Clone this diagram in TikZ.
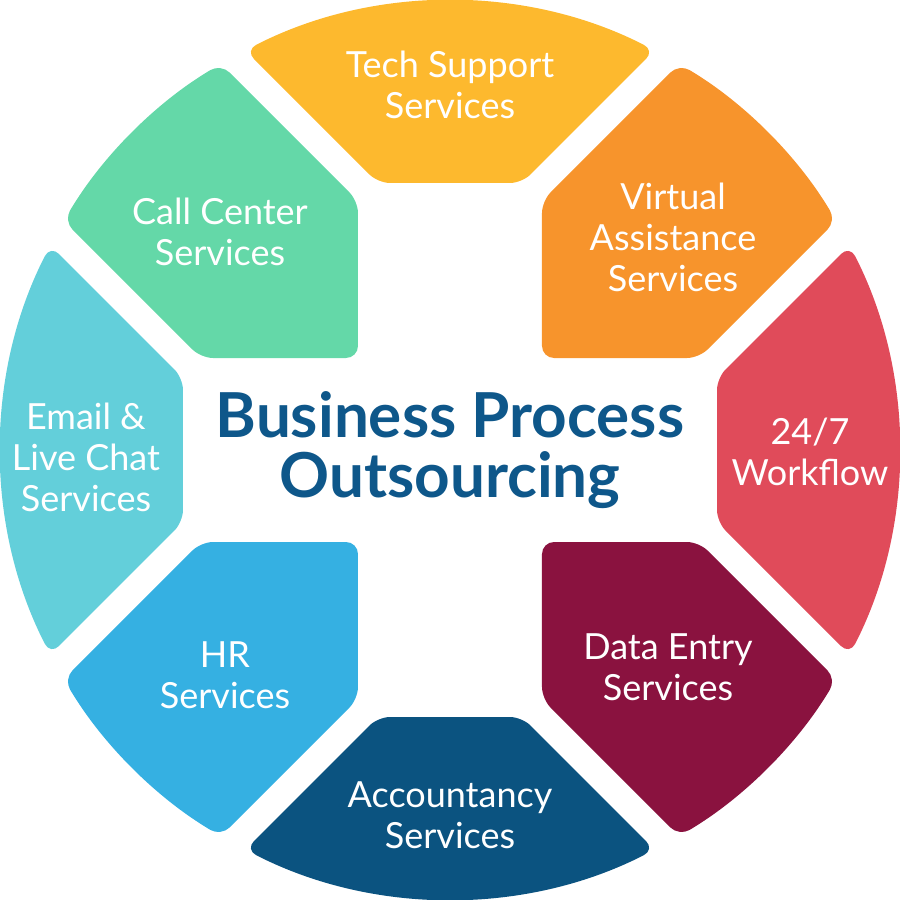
\documentclass[tikz,border=0pt]{standalone}
\usepackage{fontspec}
\setmainfont{Lato}
\usetikzlibrary{calc}
\definecolor{techcol}{RGB}{253,185,46}
\definecolor{virtcol}{RGB}{247,148,44}
\definecolor{flowcol}{RGB}{224,75,90}
\definecolor{datacol}{RGB}{138,18,63}
\definecolor{acctcol}{RGB}{11,83,128}
\definecolor{hrcol}{RGB}{53,176,226}
\definecolor{emailcol}{RGB}{99,207,218}
\definecolor{callcol}{RGB}{100,216,168}
\definecolor{titlecol}{RGB}{14,87,138}
\tikzstyle{seg} = [rounded corners=12pt]
\tikzstyle{txt} = [text=white,align=center,font=\fontsize{36}{41}\selectfont]
\tikzstyle{title} = [text=titlecol,align=center,font=\fontsize{62}{60}\selectfont\bfseries]
\tikzset{>=latex}

\begin{document}
\begin{tikzpicture}[x=1pt,y=1pt]
    \useasboundingbox (-450,-450) rectangle (450,450);
    \def\rad{449} \def\half{92} \def\strip{157} \def\side{195} \def\inner{267}
    % where the cut lines meet the rim
    \pgfmathsetmacro\ta{135-acos(\side/(sqrt(2)*\rad))}
    \pgfmathsetmacro\tb{45+acos(\side/(sqrt(2)*\rad))}
    \pgfmathsetmacro\da{45+acos(\strip/(sqrt(2)*\rad))}
    \pgfmathsetmacro\db{225-acos(\strip/(sqrt(2)*\rad))}
    \foreach \rot/\axcol/\diagcol in {0/techcol/callcol, 90/emailcol/hrcol, 180/acctcol/datacol, 270/flowcol/virtcol} {
      \begin{scope}[rotate=\rot]
        \fill [seg,\axcol] (\inner-\side,\inner) -- (\ta:\rad) arc (\ta:\tb:\rad) -- (\side-\inner,\inner) -- cycle;
        \fill [seg,\diagcol] (-\half,\half) -- (-\half,\strip+\half) -- (\da:\rad) arc (\da:\db:\rad) -- (-\strip-\half,\half) -- cycle;
      \end{scope}
    }
    \node [txt] (tech) at (0,365) {Tech Support\\Services};
    \node [txt] (call) at (-230,218) {Call Center\\Services};
    \node [txt] (virt) at (223,213) {Virtual\\Assistance\\Services};
    \node [txt] (email) at (-364,-7) {Email \&\\Live Chat\\Services};
    \node [txt] (flow) at (360,-2) {24/7\\Workflow};
    \node [txt] (hr) at (-225,-225) {HR\\Services};
    \node [txt] (data) at (218,-217) {Data Entry\\Services};
    \node [txt] (acct) at (0,-365) {Accountancy\\Services};
    \node [title] (bpo) at (0,0) {Business Process\\Outsourcing};
\end{tikzpicture}
\end{document}
